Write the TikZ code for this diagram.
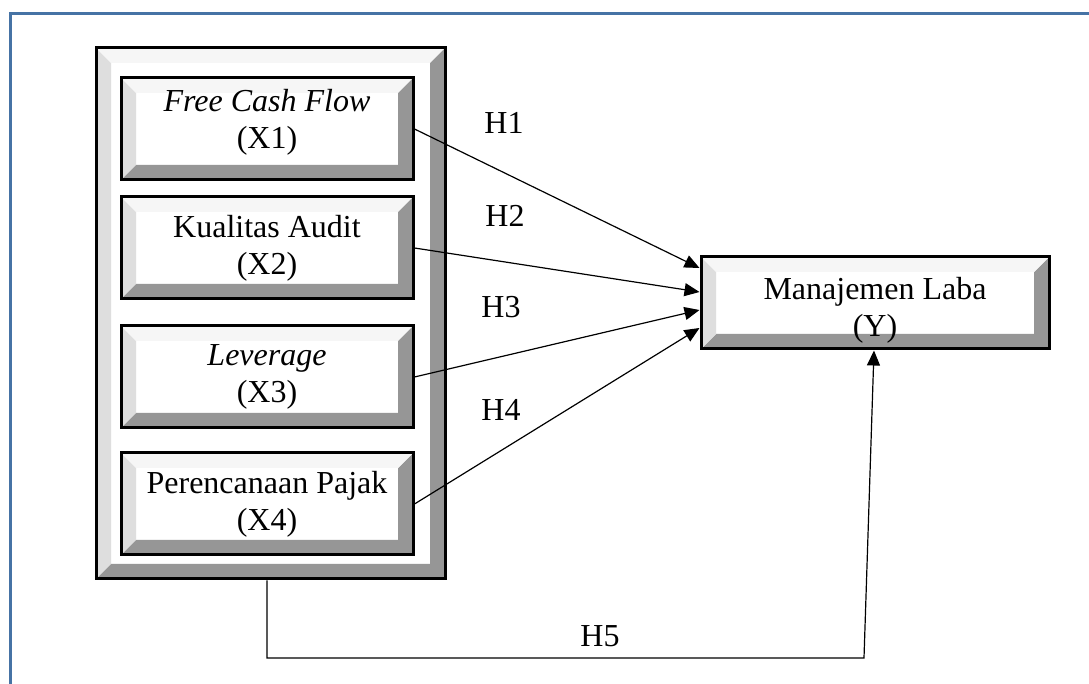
\documentclass[tikz,border=0pt]{standalone}
\usepackage{fontspec}
\setmainfont{Liberation Serif}
\usetikzlibrary{arrows.meta, positioning, calc}
\definecolor{bevelhi}{RGB}{246,246,246}
\definecolor{bevellight}{RGB}{222,222,222}
\definecolor{beveldark}{RGB}{150,150,150}
\definecolor{frameblue}{RGB}{70,115,165}
\newcommand{\bw}{7.5pt}
\tikzstyle{bevel} = [draw=black, line width=1.5pt, fill=white, inner sep=0pt, align=center, font=\fontsize{16}{18.5}\selectfont,
  path picture={
    \fill[beveldark] let \p1=(path picture bounding box.south west), \p2=(path picture bounding box.north east) in
      (\x1,\y1) -- (\x2,\y1) -- (\x2,\y2) -- (\x2-\bw,\y2-\bw) -- (\x2-\bw,\y1+\bw) -- (\x1+\bw,\y1+\bw) -- cycle;
    \fill[bevellight] let \p1=(path picture bounding box.south west), \p2=(path picture bounding box.north east) in
      (\x1,\y1) -- (\x1+\bw,\y1+\bw) -- (\x1+\bw,\y2-\bw) -- (\x1,\y2) -- cycle;
    \fill[bevelhi] let \p1=(path picture bounding box.south west), \p2=(path picture bounding box.north east) in
      (\x1,\y2) -- (\x1+\bw,\y2-\bw) -- (\x2-\bw,\y2-\bw) -- (\x2,\y2) -- cycle;
  }]
\tikzstyle{varbox} = [bevel, minimum width=146pt, minimum height=51pt]
\tikzstyle{hlabel} = [inner sep=0pt, font=\fontsize{16}{18}\selectfont]
\tikzstyle{arrow} = [line width=0.6pt,->,>={Triangle[length=7.5pt,width=6.5pt]}]

\begin{document}
\begin{tikzpicture}[x=0.5pt, y=-0.5pt]
\useasboundingbox (0,0) rectangle (1089,684);
% Frame
\draw [frameblue, line width=1.5pt] (9,14) -- (1089,14);
\draw [frameblue, line width=1.5pt] (10,13.25) -- (10,684);

% Nodes
\node (group) [bevel, minimum width=174.5pt, minimum height=265.5pt] at (270.5,313.5) {};
\node (fcf) [varbox] at (267,129) {\textit{Free Cash Flow}\\(X1)\rule[-10pt]{0pt}{0pt}};
\node (audit) [varbox, below=7pt of fcf] {Kualitas Audit\\(X2)};
\node (lev) [varbox, below=12pt of audit] {\textit{Leverage}\\(X3)};
\node (tax) [varbox, below=11pt of lev] {Perencanaan Pajak\\(X4)};
\node (el) [bevel, minimum width=174pt, minimum height=46pt] at (875,303) {\rule{0pt}{18pt}Manajemen Laba\\(Y)};

% Labels
\node (h1) [hlabel] at (504,122.5) {H1};
\node (h2) [hlabel] at (505,216) {H2};
\node (h3) [hlabel] at (501,307) {H3};
\node (h4) [hlabel] at (501,410) {H4};
\node (h5) [hlabel] at (600,636) {H5};

% Arrows
\draw [arrow] (fcf.east) -- ([yshift=17.5pt]el.west);
\draw [arrow] (audit.east) -- ([yshift=5.5pt]el.west);
\draw [arrow] (lev.east) -- ([yshift=-3.5pt]el.west);
\draw [arrow] (tax.east) -- ([yshift=-12.5pt]el.west);
\coordinate (bend) at (864,658);
\draw [arrow] (tax |- group.south) |- (bend) -- ([xshift=-0.5pt]el.south);
\end{tikzpicture}
\end{document}
